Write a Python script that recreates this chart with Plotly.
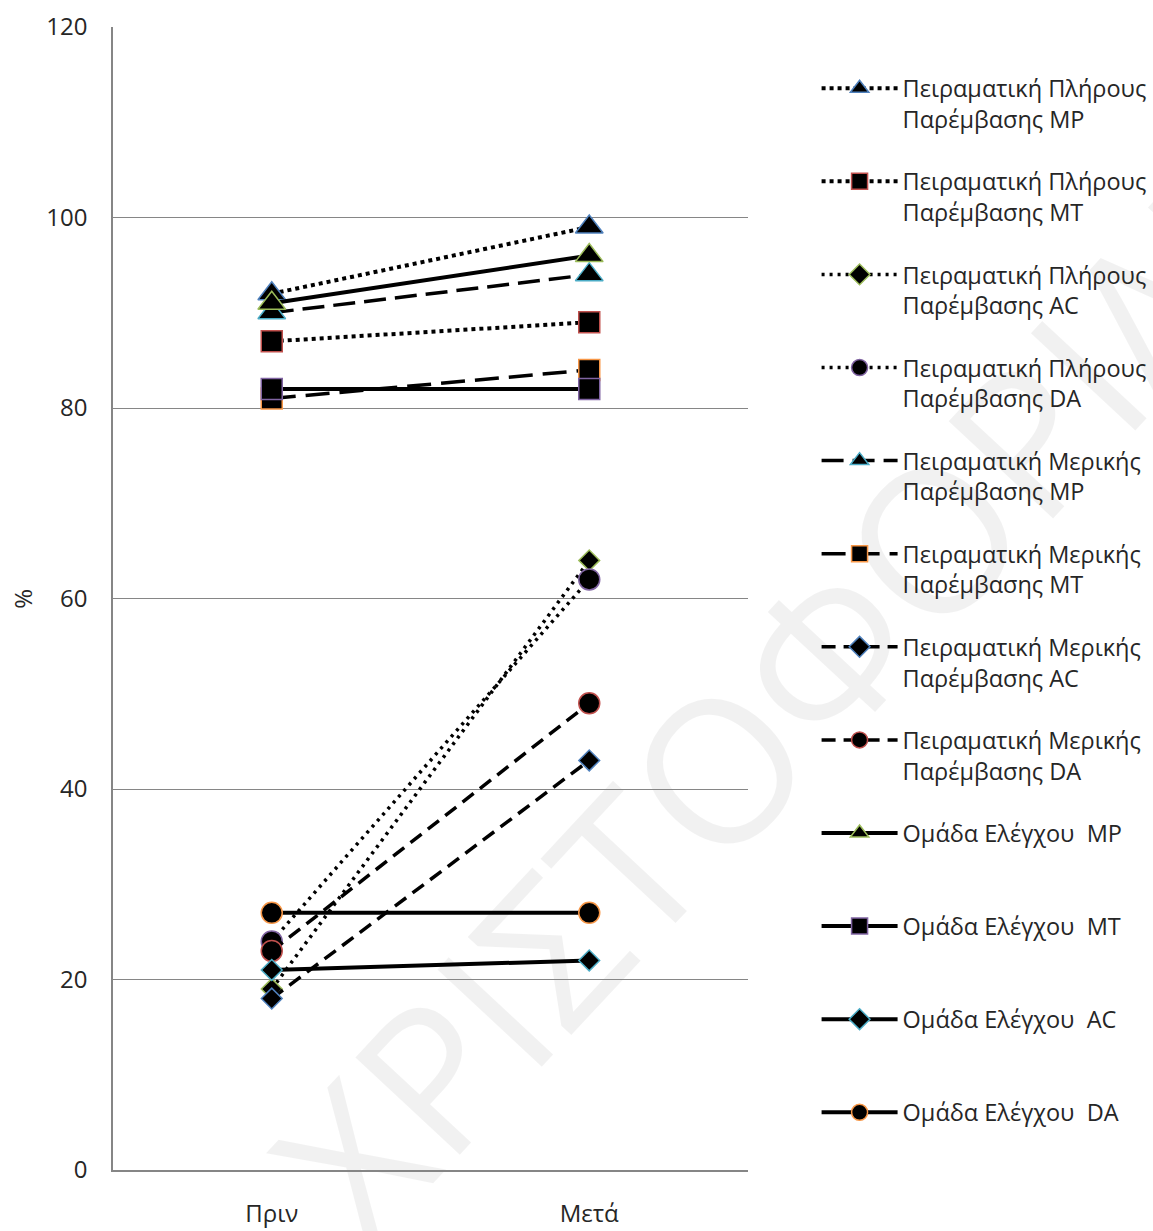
import plotly.graph_objects as go

categories = ["Πριν", "Μετά"]

series_names = [
    "Πειραματική Πλήρους<br>Παρέμβασης MP",
    "Πειραματική Πλήρους<br>Παρέμβασης MT",
    "Πειραματική Πλήρους<br>Παρέμβασης AC",
    "Πειραματική Πλήρους<br>Παρέμβασης DA",
    "Πειραματική Μερικής<br>Παρέμβασης MP",
    "Πειραματική Μερικής<br>Παρέμβασης MT",
    "Πειραματική Μερικής<br>Παρέμβασης AC",
    "Πειραματική Μερικής<br>Παρέμβασης DA",
    "Ομάδα Ελέγχου  MP<br> ",
    "Ομάδα Ελέγχου  MT<br> ",
    "Ομάδα Ελέγχου  AC<br> ",
    "Ομάδα Ελέγχου  DA<br> ",
]

full_mp = [92, 99]
full_mt = [87, 89]
full_ac = [19, 64]
full_da = [24, 62]
part_mp = [90, 94]
part_mt = [81, 84]
part_ac = [18, 43]
part_da = [23, 49]
ctrl_mp = [91, 96]
ctrl_mt = [82, 82]
ctrl_ac = [21, 22]
ctrl_da = [27, 27]

values = [full_mp, full_mt, full_ac, full_da,
          part_mp, part_mt, part_ac, part_da,
          ctrl_mp, ctrl_mt, ctrl_ac, ctrl_da]

symbols = ["triangle-up", "square", "diamond", "circle"] * 3
outline = ["#4F81BD", "#C0504D", "#9BBB59", "#8064A2",
           "#4BACC6", "#F79646", "#4F81BD", "#C0504D",
           "#9BBB59", "#8064A2", "#4BACC6", "#F79646"]
dashes = ["4px,4px", "4px,4px", "3px,5px", "3px,5px",
          "22px,9px", "24px,10px", "14px,8px", "14px,8px",
          "solid", "solid", "solid", "solid"]
widths = [4, 4, 3.5, 3.5, 3.5, 3.5, 3.5, 3.5, 4, 4, 4, 4]
sizes = {"triangle-up": 24, "square": 21, "diamond": 16, "circle": 21}

FONT = "Open Sans"

fig = go.Figure()
for i, (name, vals) in enumerate(zip(series_names, values)):
    fig.add_trace(go.Scatter(
        x=categories, y=vals, name=name, mode="lines+markers",
        legendgroup=f"g{i}",
        line=dict(color="black", width=widths[i], dash=dashes[i]),
        marker=dict(symbol=symbols[i], size=sizes[symbols[i]], color="black",
                    line=dict(color=outline[i], width=1.5)),
    ))

# watermark (behind traces)
fig.add_shape(
    type="line", xref="paper", yref="paper",
    x0=1.047, y0=0.393, x1=1.261, y1=0.521, layer="below",
    line=dict(width=0, color="rgba(0,0,0,0)"),
    label=dict(text="ΧΡΙΣΤΟΦΟΡΙΔΗΣ", textposition="middle", textangle=-47,
               xanchor="center", yanchor="middle",
               font=dict(size=200, color="rgba(0,0,0,0.055)", family=FONT)),
)

fig.add_annotation(text="%", xref="paper", yref="paper", x=-0.143, y=0.5,
                   xanchor="center", yanchor="middle",
                   showarrow=False, textangle=-90,
                   font=dict(size=24, family=FONT, color="#262626"))

fig.update_layout(
    width=1153, height=1231,
    margin=dict(l=113, r=405, t=27, b=61, autoexpand=False),
    paper_bgcolor="white", plot_bgcolor="rgba(0,0,0,0)",
    font=dict(family=FONT, size=24, color="#262626"),
    showlegend=True,
    legend=dict(x=1.108, y=0.9655, xanchor="left", yanchor="top",
                valign="top", itemwidth=76, tracegroupgap=29,
                font=dict(size=23.5, family=FONT, color="#262626"),
                bgcolor="rgba(0,0,0,0)"),
)
fig.update_xaxes(range=[-0.5, 1.5], automargin=False,
                 showline=True, linecolor="#868686", linewidth=1.5,
                 showgrid=False, ticks="", ticklabelstandoff=21,
                 tickfont=dict(size=24))
fig.update_yaxes(range=[0, 120], dtick=20, automargin=False,
                 showgrid=True, gridcolor="#868686",
                 gridwidth=1, showline=True, linecolor="#868686", linewidth=1.5,
                 zeroline=False, ticks="", ticklabelstandoff=19,
                 tickfont=dict(size=24))

fig.write_html("out.html")
